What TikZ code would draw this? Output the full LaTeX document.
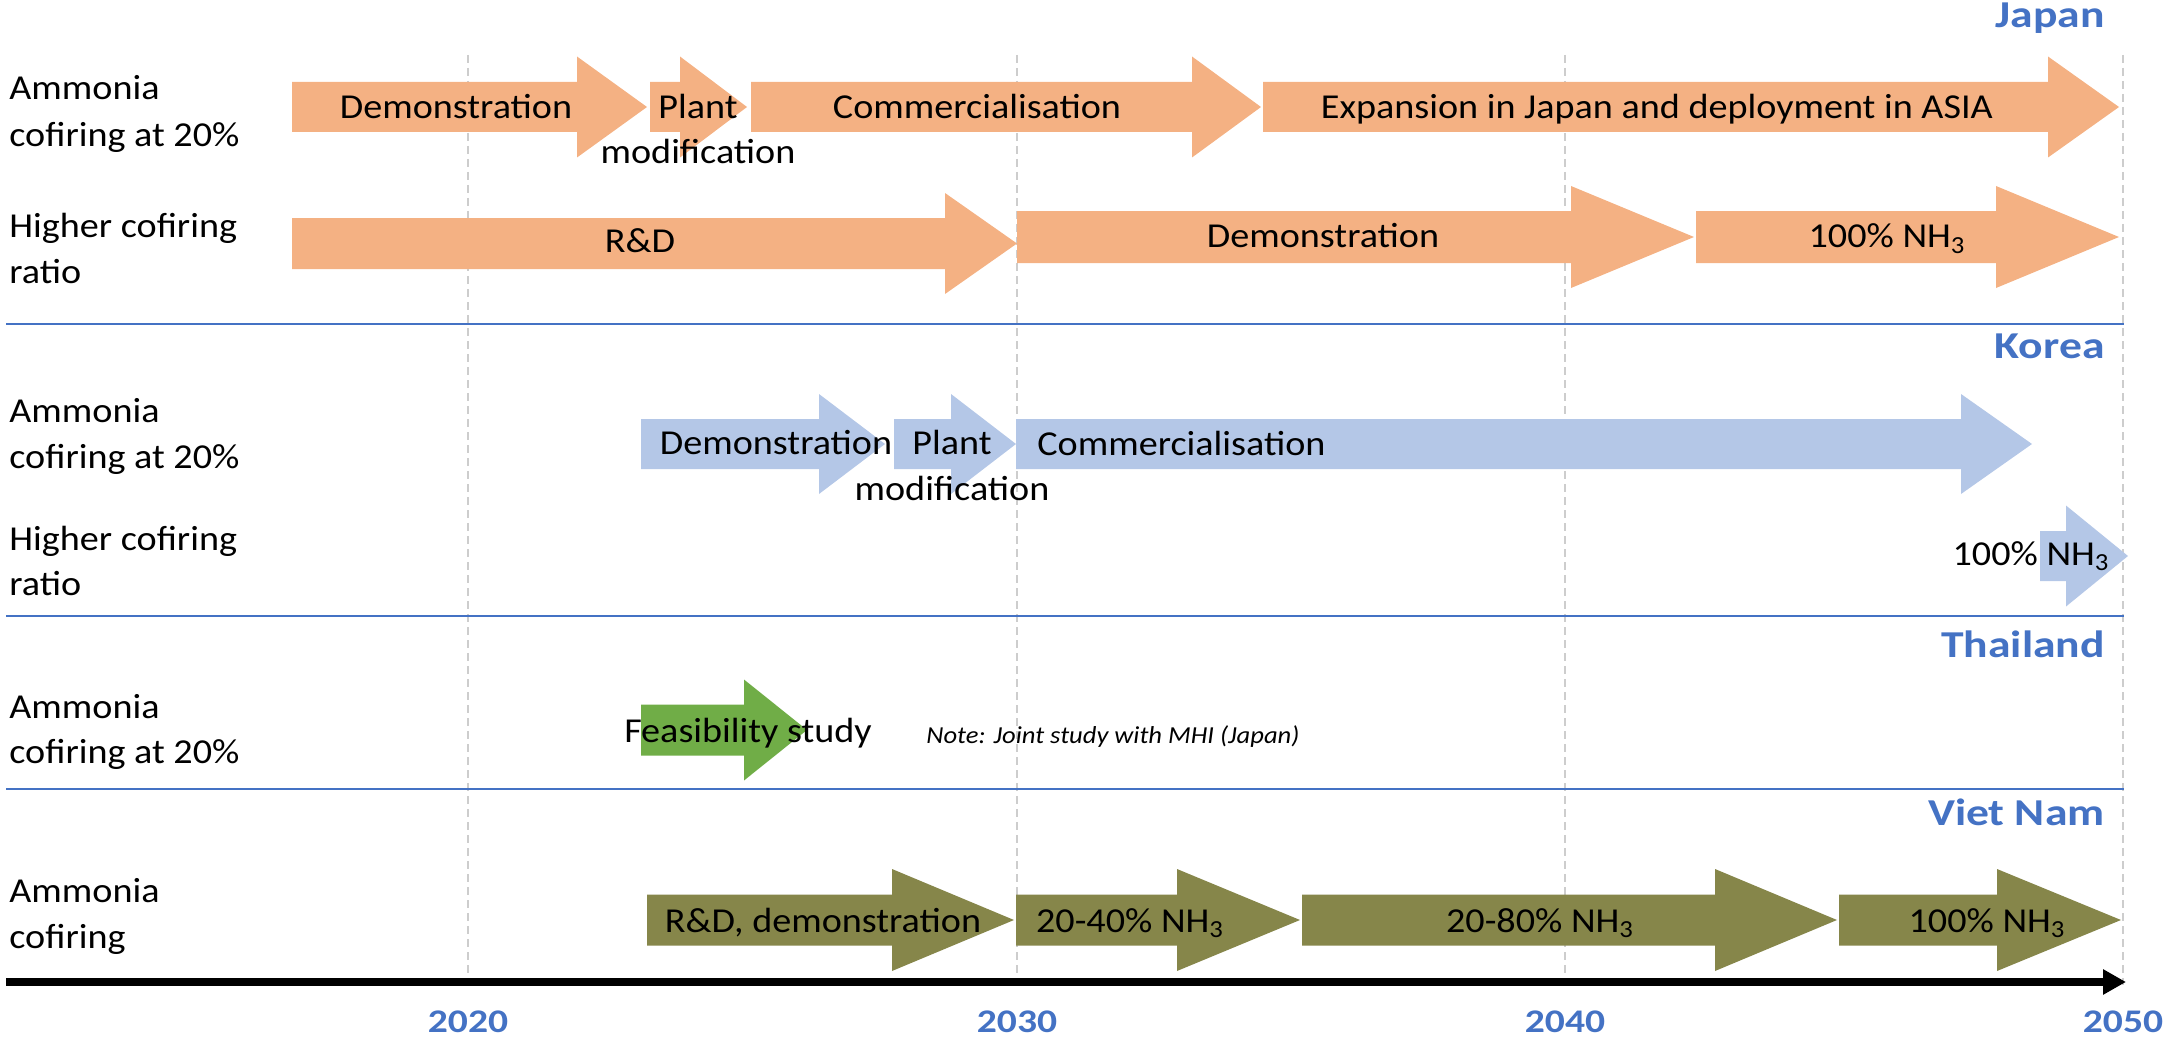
\documentclass[tikz,border=0pt]{standalone}
\usepackage{fontspec}
\setmainfont{Carlito}[FakeStretch=1.09]
\newfontfamily\ctryfont{Carlito}[FakeStretch=1.2]
\usetikzlibrary{arrows.meta}
\definecolor{jorange}{HTML}{F4B183}
\definecolor{kblue}{HTML}{B4C7E7}
\definecolor{tgreen}{HTML}{70AD47}
\definecolor{volive}{RGB}{134,134,74}
\definecolor{ctryblue}{HTML}{4472C4}
\definecolor{gridgray}{RGB}{205,205,205}
% colour, x start, x head start, x tip, y centre, shaft half-height, head half-height
\newcommand{\tlarrow}[7]{%
  \fill[#1] (#2,#5-#6) -- (#3,#5-#6) -- (#3,#5-#7) -- (#4,#5) -- (#3,#5+#7) -- (#3,#5+#6) -- (#2,#5+#6) -- cycle;}
\begin{document}
\begin{tikzpicture}[x=0.5pt,y=-0.5pt,
  txt/.style={inner sep=0pt, anchor=base, font=\fontsize{17.5}{21}\selectfont},
  lbl/.style={inner sep=0pt, anchor=base west, font=\fontsize{17.5}{21}\selectfont},
  ctry/.style={inner sep=0pt, anchor=base east, text=ctryblue, font=\ctryfont\bfseries\fontsize{19}{22}\selectfont},
  yr/.style={inner sep=0pt, anchor=base, text=ctryblue, font=\ctryfont\bfseries\fontsize{16.5}{20}\selectfont},
  note/.style={inner sep=0pt, anchor=base west, font=\itshape\fontsize{12.2}{14}\selectfont},
  gridln/.style={gridgray, line width=0.7pt, dash pattern=on 4pt off 2.5pt},
  sepln/.style={ctryblue, line width=1pt},
  axisln/.style={line width=4pt, -{Triangle[length=11.5pt,width=12pt]}},
]
\useasboundingbox (0,0) rectangle (2170,1038);

% year grid lines
\foreach \gx in {468,1017,1565,2123} \draw[gridln] (\gx,55) -- (\gx,985);

% section separators
\coordinate (s1a) at (6,324);  \coordinate (s1b) at (2124,324);
\coordinate (s2a) at (6,616);  \coordinate (s2b) at (2124,616);
\coordinate (s3a) at (6,789);  \coordinate (s3b) at (2124,789);
\draw[sepln] (s1a) -- (s1b);
\draw[sepln] (s2a) -- (s2b);
\draw[sepln] (s3a) -- (s3b);

% time axis
\coordinate (axs) at (6,982);
\coordinate (axe) at (2126,982);
\draw[axisln] (axs) -- (axe);

% ---- Japan arrows
\tlarrow{jorange}{292}{577}{647}{107}{25}{50.5}
\tlarrow{jorange}{650}{680}{747}{107}{25}{50.5}
\tlarrow{jorange}{751}{1192}{1261}{107}{25}{50.5}
\tlarrow{jorange}{1263}{2048}{2119}{107}{25}{50.5}
\tlarrow{jorange}{292}{945}{1017}{243.5}{25.5}{50.5}
\tlarrow{jorange}{1017}{1571}{1694}{237}{26}{51}
\tlarrow{jorange}{1696}{1996}{2119}{237}{26}{51}
% ---- Korea arrows
\tlarrow{kblue}{641}{819}{885}{444}{25}{50}
\tlarrow{kblue}{894}{951}{1016}{444}{25}{50}
\tlarrow{kblue}{1016}{1961}{2032}{444}{25}{50}
\tlarrow{kblue}{2040}{2066}{2128}{556}{25}{50.5}
% ---- Thailand arrow
\tlarrow{tgreen}{641}{744}{807}{730}{25.5}{50.5}
% ---- Viet Nam arrows
\tlarrow{volive}{647}{892}{1014}{920}{25.5}{51}
\tlarrow{volive}{1016}{1177}{1300}{920}{25.5}{51}
\tlarrow{volive}{1302}{1715}{1837}{920}{25.5}{51}
\tlarrow{volive}{1839}{1997}{2121}{920}{25.5}{51}

% ---- row labels
\node[lbl] (jl1a) at (9,100) {Ammonia};
\node[lbl] (jl1b) at (9,147) {cofiring at 20\%};
\node[lbl] (jl2a) at (9,237) {Higher cofiring};
\node[lbl] (jl2b) at (9,283) {ratio};
\node[lbl] (kl1a) at (9,422) {Ammonia};
\node[lbl] (kl1b) at (9,468) {cofiring at 20\%};
\node[lbl] (kl2a) at (9,550) {Higher cofiring};
\node[lbl] (kl2b) at (9,595) {ratio};
\node[lbl] (tl1a) at (9,718) {Ammonia};
\node[lbl] (tl1b) at (9,763) {cofiring at 20\%};
\node[lbl] (vl1a) at (9,902) {Ammonia};
\node[lbl] (vl1b) at (9,948) {cofiring};

% ---- country labels
\node[ctry] (cjp) at (2105,28) {Japan};
\node[ctry] (ckr) at (2105,358) {Korea};
\node[ctry] (cth) at (2105,657) {Thailand};
\node[ctry] (cvn) at (2105,825) {Viet Nam};

% ---- Japan texts
\node[txt] (j1) at (456,119) {Demonstration};
\node[txt] (j2) at (698,119) {Plant};
\node[txt] (j2b) at (698,163) {modification};
\node[txt] (j3) at (977,119) {Commercialisation};
\node[txt] (j4) at (1657,119) {Expansion in Japan and deployment in ASIA};
\node[txt] (j5) at (640,252) {R\&D};
\node[txt] (j6) at (1323,248) {Demonstration};
\node[txt] (j7) at (1887,248) {100\% NH\textsubscript{3}};

% ---- Korea texts
\node[txt] (k1) at (776,454) {Demonstration};
\node[txt] (k2) at (952,454) {Plant};
\node[txt] (k2b) at (952,500) {modification};
\node[txt,anchor=base west] (k3) at (1037,455) {Commercialisation};
\node[txt] (k4) at (2031,565) {100\% NH\textsubscript{3}};

% ---- Thailand texts
\node[txt] (t1) at (748,742) {Feasibility study};
\node[note] (t2) at (926,743) {Note: Joint study with MHI (Japan)};

% ---- Viet Nam texts
\node[txt] (v1) at (823,932) {R\&D, demonstration};
\node[txt] (v2) at (1130,932) {20-40\% NH\textsubscript{3}};
\node[txt] (v3) at (1540,932) {20-80\% NH\textsubscript{3}};
\node[txt] (v4) at (1987,932) {100\% NH\textsubscript{3}};

% ---- years
\node[yr] (y20) at (468,1032) {2020};
\node[yr] (y30) at (1017,1032) {2030};
\node[yr] (y40) at (1565,1032) {2040};
\node[yr] (y50) at (2123,1032) {2050};
\end{tikzpicture}
\end{document}
